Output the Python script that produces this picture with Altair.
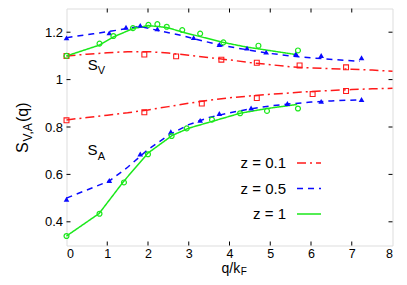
import altair as alt
import pandas as pd

# ---------------- data ----------------
series = ["z = 0.1", "z = 0.5", "z = 1"]
colors = ["#ff1a1a", "#0a0aff", "#1be81b"]
dashes = [[9, 4, 2, 4], [6, 5], [1, 0]]

# model curves
red_x = [0, 0.5, 1, 1.5, 2, 2.5, 3, 3.5, 4, 4.5, 5, 5.5, 6, 6.5, 7, 7.5, 8]
red_V_y = [1.100, 1.107, 1.113, 1.118, 1.118, 1.112, 1.103, 1.093, 1.083, 1.072,
           1.063, 1.054, 1.049, 1.046, 1.044, 1.040, 1.035]
red_A_y = [0.830, 0.840, 0.850, 0.860, 0.872, 0.886, 0.900, 0.913, 0.923, 0.931,
           0.938, 0.944, 0.950, 0.954, 0.958, 0.961, 0.963]

blue_V_x = [0, 0.66, 1.3, 1.8, 2.3, 2.8, 3.3, 3.84, 4.4, 4.92, 5.7, 6.3, 7.2]
blue_V_y = [1.177, 1.193, 1.210, 1.225, 1.205, 1.187, 1.165, 1.143, 1.127, 1.112,
            1.096, 1.088, 1.077]
blue_A_x = [0, 1.05, 1.5, 2, 2.5, 3, 3.5, 4, 4.5, 5, 5.5, 6, 6.5, 7.2]
blue_A_y = [0.500, 0.572, 0.630, 0.705, 0.765, 0.810, 0.840, 0.860, 0.876, 0.889,
            0.898, 0.905, 0.910, 0.915]

green_V_x = [0, 0.8, 1.15, 1.63, 2.0, 2.46, 2.9, 3.84, 4.43, 5.66]
green_V_y = [1.100, 1.145, 1.180, 1.215, 1.228, 1.220, 1.198, 1.157, 1.137, 1.105]
green_A_x = [0, 0.8, 1.4, 2, 2.6, 3, 3.6, 4.26, 4.92, 5.66]
green_A_y = [0.340, 0.435, 0.570, 0.690, 0.765, 0.795, 0.825, 0.858, 0.878, 0.895]

# simulation points
red_V_px = [0, 1.91, 2.69, 3.80, 4.67, 5.72, 6.86]
red_V_py = [1.100, 1.106, 1.098, 1.084, 1.071, 1.060, 1.052]
red_A_px = [0, 1.91, 3.32, 4.67, 6.04, 6.86]
red_A_py = [0.828, 0.862, 0.899, 0.922, 0.939, 0.952]

blue_V_px = [0, 1.05, 1.46, 1.81, 2.23, 3.12, 3.75, 4.43, 4.90, 5.63, 6.25, 7.24]
blue_V_py = [1.176, 1.197, 1.221, 1.229, 1.214, 1.177, 1.148, 1.133, 1.116, 1.109,
             1.102, 1.092]
blue_A_px = [0, 1.05, 1.81, 2.56, 3.28, 3.75, 4.53, 5.42, 6.25, 7.24]
blue_A_py = [0.495, 0.574, 0.686, 0.780, 0.828, 0.857, 0.880, 0.899, 0.908, 0.916]

green_V_px = [0, 0.81, 1.15, 1.63, 2.01, 2.23, 2.46, 2.84, 3.28, 3.85, 4.71, 5.68]
green_V_py = [1.100, 1.152, 1.184, 1.217, 1.231, 1.234, 1.223, 1.209, 1.194, 1.157,
              1.143, 1.123]
green_A_px = [0, 0.81, 1.41, 2.0, 2.58, 2.95, 3.57, 4.26, 4.92, 5.68]
green_A_py = [0.340, 0.434, 0.566, 0.685, 0.762, 0.794, 0.831, 0.858, 0.868, 0.878]

x_ticks = [1, 2, 3, 4, 5, 6, 7]
x_labels = [0, 1, 2, 3, 4, 5, 6, 7, 8]
y_ticks = [0.4, 0.6, 0.8, 1.0, 1.2]

FONT = "Liberation Sans"
W, H = 326, 237


def curve(xs, ys, z, c):
    return pd.DataFrame({"q": xs, "S": ys, "z": z, "curve": c})


lines_df = pd.concat([
    curve(red_x, red_V_y, series[0], "V0"), curve(red_x, red_A_y, series[0], "A0"),
    curve(blue_V_x, blue_V_y, series[1], "V1"), curve(blue_A_x, blue_A_y, series[1], "A1"),
    curve(green_V_x, green_V_y, series[2], "V2"), curve(green_A_x, green_A_y, series[2], "A2"),
], ignore_index=True)


def xe():
    return alt.X("q:Q", title="", scale=alt.Scale(domain=[0, 8], nice=False),
                 axis=alt.Axis(values=x_labels, format="d", labelPadding=2,
                               labelFontSize=12.5, labelFont=FONT, labelColor="black",
                               ticks=False, domain=False, grid=False))


def ye():
    return alt.Y("S:Q", title="", scale=alt.Scale(domain=[0.3, 1.3], nice=False, zero=False),
                 axis=alt.Axis(values=y_ticks, format="~g", labelPadding=4,
                               labelFontSize=13, labelFont=FONT, labelColor="black",
                               ticks=False, domain=False, grid=False))


lines = alt.Chart(lines_df).mark_line(strokeWidth=1.5).encode(
    x=xe(), y=ye(),
    color=alt.Color("z:N", scale=alt.Scale(domain=series, range=colors), legend=None),
    strokeDash=alt.StrokeDash("z:N", scale=alt.Scale(domain=series, range=dashes), legend=None),
    detail="curve:N",
    order="q:Q",
)


def pts(xs, ys):
    return pd.DataFrame({"q": xs, "S": ys})


red_pts = alt.Chart(pd.concat([pts(red_V_px, red_V_py), pts(red_A_px, red_A_py)])).mark_point(
    shape="square", filled=False, size=24, strokeWidth=1.1, color=colors[0], opacity=1
).encode(x=xe(), y=ye())
blue_pts = alt.Chart(pd.concat([pts(blue_V_px, blue_V_py), pts(blue_A_px, blue_A_py)])).mark_point(
    shape="triangle-up", filled=True, size=32, color=colors[1], opacity=1
).encode(x=xe(), y=ye())
green_pts = alt.Chart(pd.concat([pts(green_V_px, green_V_py), pts(green_A_px, green_A_py)])).mark_point(
    shape="circle", filled=False, size=24, strokeWidth=1.2, color=colors[2], opacity=1
).encode(x=xe(), y=ye())

# inward ticks on all four sides of the frame
xt = pd.DataFrame({"q": x_ticks})
yt = pd.DataFrame({"S": y_ticks})
tick_b = alt.Chart(xt).mark_rule(color="black", strokeWidth=1).encode(
    x=xe(), y=alt.value(H), y2=alt.value(H - 4))
tick_t = alt.Chart(xt).mark_rule(color="black", strokeWidth=1).encode(
    x=xe(), y=alt.value(0), y2=alt.value(4))
tick_l = alt.Chart(yt).mark_rule(color="black", strokeWidth=1).encode(
    y=ye(), x=alt.value(0), x2=alt.value(4))
tick_r = alt.Chart(yt).mark_rule(color="black", strokeWidth=1).encode(
    y=ye(), x=alt.value(W), x2=alt.value(W - 4))


def label(txt, x, y, size, angle=0, align="left", baseline="alphabetic"):
    kw = dict(align=align, baseline=baseline, fontSize=size, font=FONT, color="black")
    if angle:
        kw["angle"] = angle
    return alt.Chart(pd.DataFrame({"t": [txt]})).mark_text(**kw).encode(
        text="t:N", x=alt.value(x), y=alt.value(y))


texts = [
    # S_V and S_A annotations
    label("S", 21.2, 61.5, 15), label("V", 31.2, 65.0, 11),
    label("S", 21.0, 146.5, 15), label("A", 31.2, 151.5, 11),
    # y title S_{V,A}(q)
    label("S", -38.5, 144.5, 16, angle=270), label("V,A", -35.0, 133.0, 12, angle=270),
    label("(q)", -38.5, 113.5, 16, angle=270),
    # x title q/k_F
    label("q/k", 155.0, 264.0, 14), label("F", 174.2, 266.0, 10),
]

# legend (text on the left, line sample on the right)
leg_rows = [154.5, 180.0, 205.5]
legend = []
for s, c, d, ry in zip(series, colors, dashes, leg_rows):
    legend.append(label(s, 219.5, ry, 15, align="right", baseline="middle"))
    legend.append(alt.Chart(pd.DataFrame({"t": [s]})).mark_rule(
        color=c, strokeWidth=1.5, strokeDash=d).encode(
        x=alt.value(230.5), x2=alt.value(254.5), y=alt.value(ry)))

chart = alt.layer(
    lines, red_pts, blue_pts, green_pts, tick_b, tick_t, tick_l, tick_r, *texts, *legend
).properties(
    width=W, height=H,
    autosize=alt.AutoSizeParams(type="none"),
    padding={"left": 58.5, "top": 0.5, "right": 6.5, "bottom": 31.5},
).configure_view(stroke="black", strokeWidth=1).configure(background="white")

chart.save("out.html", embed_options={"renderer": "svg", "actions": False})
